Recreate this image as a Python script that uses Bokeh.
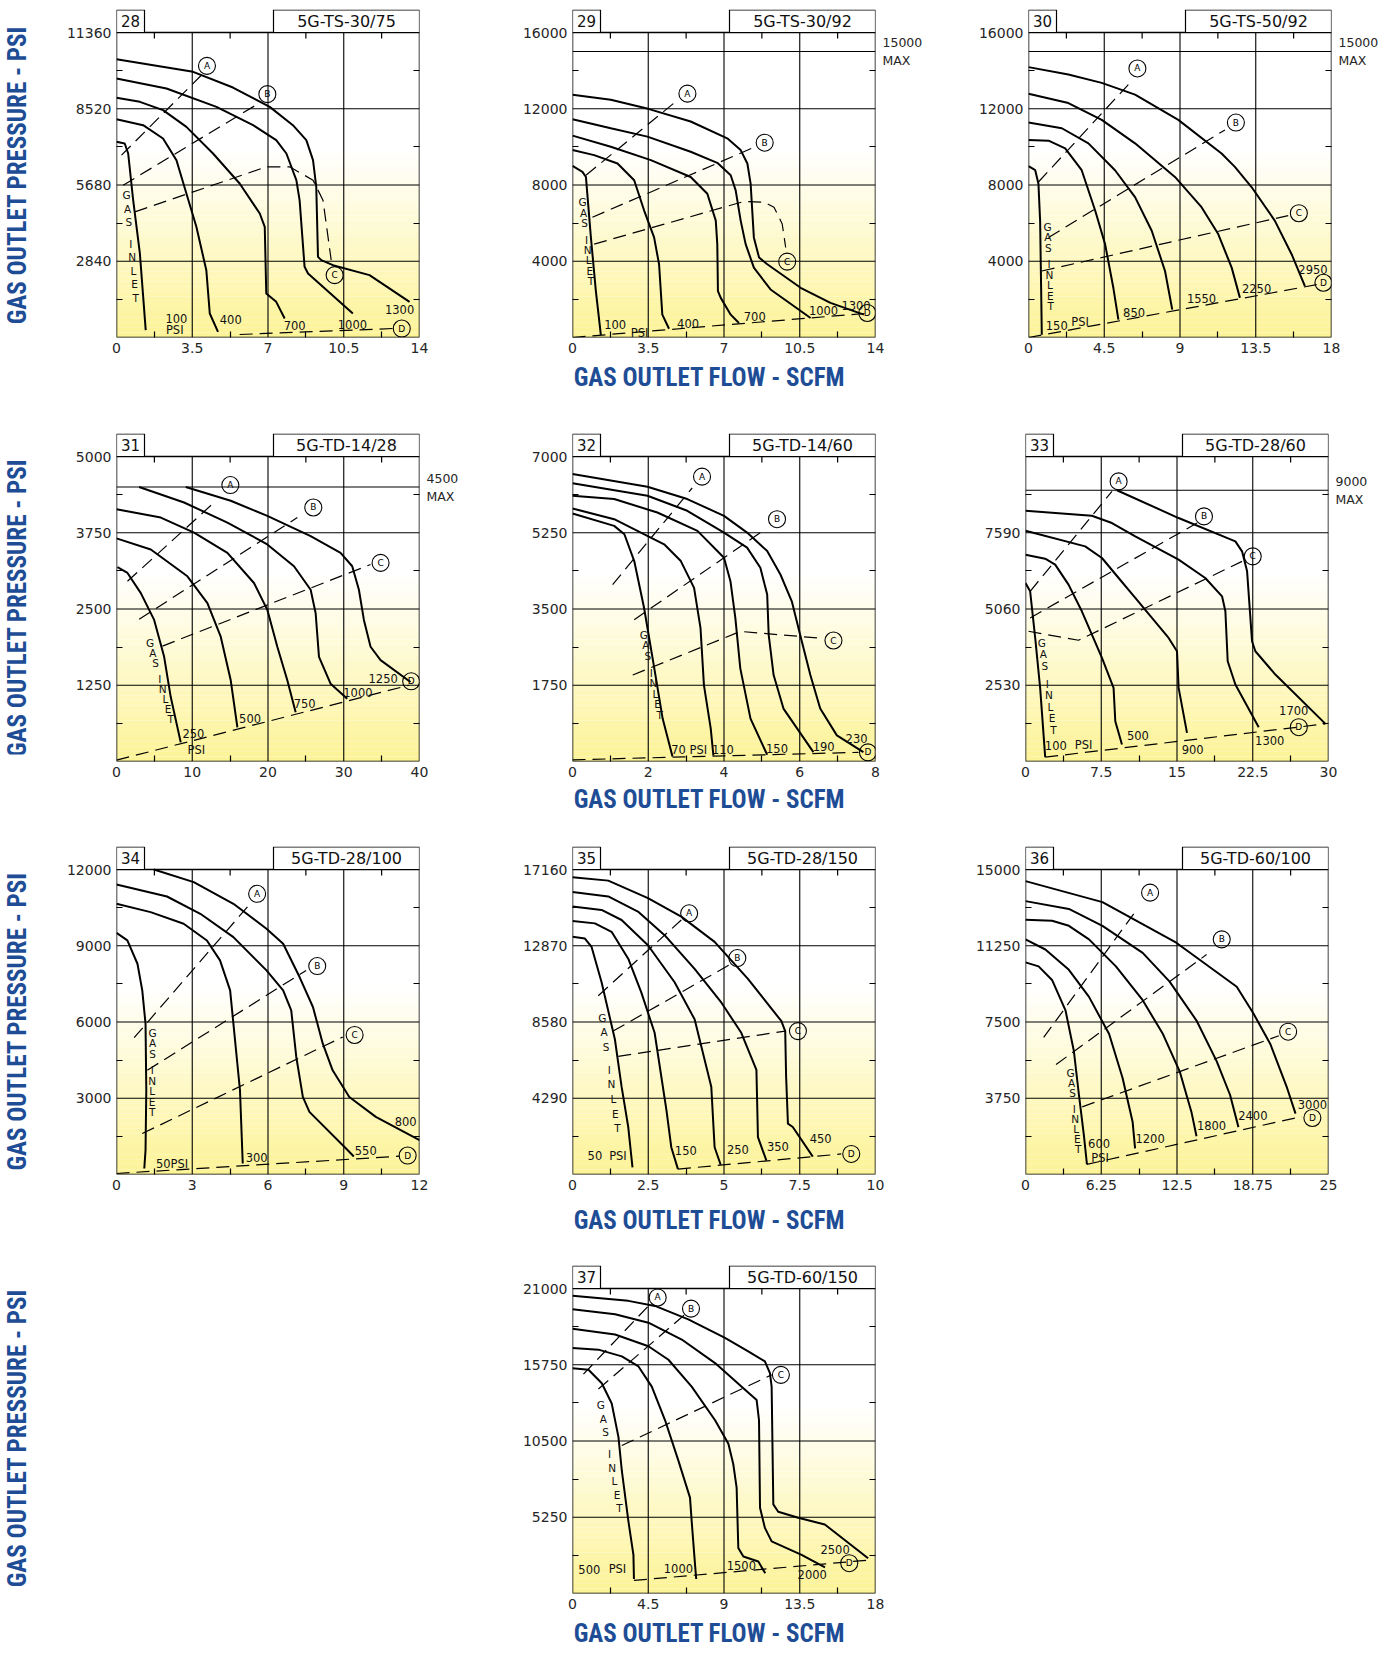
import math
from bokeh.plotting import figure
from bokeh.models import FixedTicker, LinearAxis, Range1d, CustomJSTickFormatter, Spacer
from bokeh.layouts import row, column
from bokeh.embed import file_html
from bokeh.resources import INLINE
from bokeh.core.properties import value

# ---------------------------------------------------------------- data
# Panel 28  5G-TS-30/75
p28_xmax, p28_ymax = 14, 11360
p28_xticks = [0, 3.5, 7, 10.5, 14]
p28_yticks = [2840, 5680, 8520, 11360]
p28_ygrid = [2840, 5680, 8520]
p28_psi = ["1300", "1000", "700", "400", "100"]
p28_cx = [[0, 3.54, 5.38, 7.08, 8.15, 8.77, 9.08, 9.23, 9.31, 9.46, 10.0, 11.69, 13.54],
          [0, 2.31, 4.62, 6.31, 7.38, 7.85, 8.31, 8.46, 8.69, 8.85, 10.92],
          [0, 1.08, 2.15, 3.23, 4.46, 5.69, 6.62, 6.85, 6.92, 7.38, 7.77],
          [0, 1.23, 2.15, 2.77, 3.23, 3.69, 4.15, 4.31, 4.69],
          [0, 0.38, 0.54, 0.77, 1.08, 1.35]]
p28_cy = [[10366, 9895, 9311, 8591, 7908, 7350, 6605, 5611, 3004, 2880, 2694, 2322, 1328],
          [9646, 9274, 8591, 7908, 7350, 6853, 5860, 5115, 2632, 2384, 894],
          [8926, 8777, 8467, 7846, 6853, 5736, 4618, 4122, 1639, 1328, 708],
          [8132, 7908, 7412, 6605, 5363, 4122, 2508, 894, 211],
          [7288, 7225, 6853, 5115, 3129, 273]]
p28_dx = [[0.23, 4.0], [0.31, 6.69], [0.85, 6.92, 8.0, 9.08, 9.54, 9.92], [5.69, 12.77]]
p28_dy = [[6791, 9833], [5674, 8777], [4680, 6356, 6356, 5860, 5115, 2880], [112, 335]]
p28_mx = [4.18, 6.97, 10.08, 13.18]
p28_my = [10118, 9063, 2322, 335]
p28_lt = ["1300", "1000", "700", "400", "100", "PSI"]
p28_lx = [13.08, 10.9, 8.23, 5.28, 2.77, 2.69]
p28_ly = [1043, 497, 459, 670, 708, 273]
p28_inlet = [0.46, 5301, 0.89, 1477]
p28_max = None

# Panel 29  5G-TS-30/92
p29_xmax, p29_ymax = 14, 16000
p29_xticks = [0, 3.5, 7, 10.5, 14]
p29_yticks = [4000, 8000, 12000, 16000]
p29_ygrid = [4000, 8000, 12000, 15000]
p29_psi = ["1300", "1000", "700", "400", "100"]
p29_cx = [[0, 1.77, 3.54, 5.46, 7.15, 7.77, 8.08, 8.23, 8.38, 8.62, 9.0, 10.54, 11.92, 13.46],
          [0, 1.77, 3.46, 5.46, 6.69, 7.31, 7.54, 7.77, 8.0, 8.38, 9.15, 11.0],
          [0, 1.77, 3.62, 5.46, 6.23, 6.62, 6.69, 6.72, 6.85, 7.31, 7.69],
          [0, 1.0, 2.08, 2.85, 3.31, 3.77, 4.0, 4.15, 4.46],
          [0, 0.46, 0.62, 0.85, 1.08, 1.31]]
p29_cy = [[12739, 12475, 11982, 11330, 10449, 9832, 9127, 8070, 5251, 4194, 3841, 2608, 1815, 1198],
          [11453, 10977, 10537, 9744, 9162, 8510, 7718, 6132, 4898, 3665, 2520, 1022],
          [10590, 10008, 9303, 8422, 7541, 6132, 4898, 2432, 2079, 1198, 758],
          [9832, 9568, 9127, 8246, 6660, 5251, 3841, 1198, 458],
          [9004, 8687, 8422, 5251, 2432, 141]]
p29_dx = [[0.62, 4.69], [0.92, 8.38], [1.0, 7.92, 8.85, 9.31, 9.69, 9.85], [0, 13.77]]
p29_dy = [[8510, 12299], [6308, 9973], [4898, 7136, 7101, 6836, 5956, 4722], [0, 1286]]
p29_mx = [5.31, 8.88, 9.92, 13.62]
p29_my = [12792, 10220, 3982, 1286]
p29_lt = ["1300", "1000", "700", "400", "100", "PSI"]
p29_lx = [13.1, 11.6, 8.42, 5.34, 1.97, 3.1]
p29_ly = [1680, 1410, 1110, 758, 670, 229]
p29_inlet = [0.46, 7101, 0.85, 2960]
p29_max = 15000

# Panel 30  5G-TS-50/92
p30_xmax, p30_ymax = 18, 16000
p30_xticks = [0, 4.5, 9, 13.5, 18]
p30_yticks = [4000, 8000, 12000, 16000]
p30_ygrid = [4000, 8000, 12000, 15000]
p30_psi = ["2950", "2250", "1550", "850", "150"]
p30_cx = [[0, 2.37, 4.35, 6.33, 8.9, 11.47, 12.26, 13.25, 14.63, 15.63, 16.42],
          [0, 2.37, 4.35, 6.33, 8.7, 10.28, 11.27, 12.07, 12.56],
          [0, 1.98, 3.56, 5.14, 6.33, 7.32, 8.11, 8.54],
          [0, 1.19, 2.18, 3.16, 3.96, 4.55, 5.04, 5.34],
          [0, 0.4, 0.59, 0.69, 0.75, 0.79]]
p30_cy = [[14184, 13796, 13356, 12739, 11418, 9656, 8951, 7894, 6132, 4370, 2696],
          [12792, 12299, 11418, 10185, 8422, 6836, 5427, 3665, 2079],
          [11277, 10977, 10185, 8775, 7365, 5603, 3489, 1462],
          [10361, 10326, 9920, 8775, 6660, 4898, 2608, 934],
          [8986, 8775, 8070, 6132, 2608, 141]]
p30_dx = [[0.59, 5.93], [1.19, 11.67], [0.79, 15.43], [0, 17.3]]
p30_dy = [[8158, 13268], [5251, 10889], [3489, 6396], [0, 2800]]
p30_mx = [6.47, 12.32, 16.06, 17.52]
p30_my = [14114, 11277, 6519, 2872]
p30_lt = ["2950", "2250", "1550", "850", "150", "PSI"]
p30_lx = [16.9, 13.55, 10.28, 6.27, 1.68, 3.07]
p30_ly = [3542, 2572, 2044, 1286, 634, 810]
p30_inlet = [1.13, 5815, 1.32, 1639]
p30_max = 15000

# Panel 31  5G-TD-14/28
p31_xmax, p31_ymax = 40, 5000
p31_xticks = [0, 10, 20, 30, 40]
p31_yticks = [1250, 2500, 3750, 5000]
p31_ygrid = [1250, 2500, 3750, 4500]
p31_psi = ["1250", "1000", "750", "500", "250"]
p31_cx = [[9.14, 15.08, 19.91, 25.63, 29.58, 31.12, 32.0, 32.66, 33.54, 34.86, 38.81],
          [2.99, 8.92, 14.64, 19.91, 23.43, 25.63, 26.29, 26.73, 28.26, 30.46],
          [0, 5.85, 10.24, 14.64, 18.15, 19.91, 21.23, 22.55, 23.65],
          [0, 4.53, 9.36, 12.0, 13.76, 15.08, 15.96],
          [0.13, 1.45, 3.21, 4.97, 6.29, 7.16, 8.48]]
p31_cy = [[4500, 4274, 4026, 3696, 3421, 3201, 2816, 2321, 1881, 1661, 1304],
          [4500, 4246, 3916, 3559, 3201, 2816, 2431, 1716, 1276, 1029],
          [4136, 3999, 3751, 3421, 2926, 2486, 1881, 1331, 809],
          [3658, 3476, 3036, 2596, 2046, 1331, 561],
          [3185, 3091, 2761, 2321, 1716, 1056, 314]]
p31_dx = [[1.45, 12.88], [2.99, 23.87], [6.07, 33.54], [0, 38.59]]
p31_dy = [[2954, 4246], [2332, 3999], [1892, 3229], [22, 1249]]
p31_mx = [15.03, 25.98, 34.86, 38.9]
p31_my = [4532, 4164, 3256, 1315]
p31_lt = ["1250", "1000", "750", "500", "250", "PSI"]
p31_lx = [35.2, 31.87, 24.84, 17.63, 10.15, 10.55]
p31_ly = [1360, 1128, 946, 699, 462, 187]
p31_inlet = [4.44, 1947, 7.16, 699]
p31_max = 4500

# Panel 32  5G-TD-14/60
p32_xmax, p32_ymax = 8, 7000
p32_xticks = [0, 2, 4, 6, 8]
p32_yticks = [1750, 3500, 5250, 7000]
p32_ygrid = [1750, 3500, 5250]
p32_psi = ["230", "190", "150", "110", "70"]
p32_cx = [[0, 1.98, 3.03, 4.0, 4.61, 5.14, 5.49, 5.79, 6.01, 6.28, 6.54, 6.98, 7.68],
          [0, 1.98, 3.03, 4.0, 4.61, 4.96, 5.14, 5.18, 5.31, 5.57, 6.36],
          [0, 1.1, 2.24, 3.3, 4.0, 4.17, 4.3, 4.43, 4.7, 5.14],
          [0, 1.1, 2.42, 2.86, 3.21, 3.38, 3.47, 3.65, 3.72],
          [0, 1.1, 1.37, 1.63, 1.89, 2.16, 2.38, 2.64]]
p32_cy = [[6600, 6307, 6023, 5638, 5254, 4831, 4292, 3677, 2908, 1985, 1215, 600, 215],
          [6384, 6100, 5754, 5254, 4908, 4446, 3831, 2908, 1985, 1215, 215],
          [6100, 6023, 5715, 5292, 4677, 4138, 3292, 2138, 985, 154],
          [5808, 5561, 4985, 4600, 3985, 3061, 1754, 754, 138],
          [5692, 5408, 5215, 4600, 3523, 2138, 985, 115]]
p32_dx = [[1.06, 3.16], [1.63, 5.0], [1.59, 4.43, 6.54], [0, 7.55]]
p32_dy = [[4061, 6277], [3254, 5277], [1985, 2985, 2831], [38, 210]]
p32_mx = [3.42, 5.4, 6.89, 7.8]
p32_my = [6538, 5561, 2777, 210]
p32_lt = ["230", "190", "150", "110", "70 PSI"]
p32_lx = [7.5, 6.63, 5.4, 3.97, 3.08]
p32_ly = [520, 346, 308, 269, 254]
p32_inlet = [1.88, 2908, 2.3, 1077]
p32_max = None

# Panel 33  5G-TD-28/60
p33_xmax, p33_ymax = 30, 10120
p33_xticks = [0, 7.5, 15, 22.5, 30]
p33_yticks = [2530, 5060, 7590]
p33_ygrid = [2530, 5060, 7590, 9000]
p33_psi = ["1700", "1300", "900", "500", "100"]
p33_cx = [[9.05, 15.16, 20.78, 21.44, 21.94, 22.43, 22.76, 24.74, 29.7],
          [0, 6.57, 8.56, 10.87, 15.16, 17.8, 19.46, 19.79, 20.02, 20.78, 23.09],
          [0, 5.91, 7.57, 9.22, 10.87, 12.52, 14.17, 15.0, 15.16, 15.99],
          [0, 1.95, 2.94, 4.26, 5.58, 7.57, 8.72, 8.89, 9.55],
          [0, 0.46, 0.96, 1.45, 1.95]]
p33_cy = [[9000, 8078, 7304, 6973, 6310, 3989, 3658, 2884, 1249],
          [8321, 8155, 7912, 7470, 6696, 6089, 5481, 4984, 3326, 2553, 1138],
          [7658, 7138, 6752, 6089, 5426, 4763, 4100, 3658, 2442, 950],
          [6862, 6730, 6531, 5868, 4984, 3437, 2442, 1337, 564],
          [5923, 5647, 4100, 2442, 144]]
p33_dx = [[0.46, 8.56], [0.46, 16.98], [0.3, 5.25, 21.44], [1.95, 29.7]]
p33_dy = [[5647, 8962], [4763, 7912], [4321, 4022, 6641], [144, 1249]]
p33_mx = [9.22, 17.67, 22.5, 27.06]
p33_my = [9293, 8133, 6807, 1138]
p33_lt = ["1700", "1300", "900", "500", "100", "PSI"]
p33_lx = [26.56, 24.18, 16.55, 11.13, 3.0, 5.75]
p33_ly = [1691, 696, 398, 862, 541, 541]
p33_inlet = [1.62, 3934, 2.78, 1061]
p33_max = 9000

# Panel 34  5G-TD-28/100
p34_xmax, p34_ymax = 12, 12000
p34_xticks = [0, 3, 6, 9, 12]
p34_yticks = [3000, 6000, 9000, 12000]
p34_ygrid = [3000, 6000, 9000]
p34_psi = ["800", "550", "300", "50"]
p34_cx = [[1.48, 3.06, 4.63, 5.94, 6.6, 7.25, 7.78, 8.17, 8.56, 9.22, 10.27, 12.0],
          [0, 2.0, 3.32, 4.63, 5.94, 6.6, 6.92, 7.12, 7.38, 7.64, 9.09, 9.4],
          [0, 1.35, 2.66, 3.58, 4.1, 4.5, 4.63, 4.76, 4.89, 5.0],
          [0, 0.43, 0.83, 1.02, 1.15, 1.18, 1.15, 1.1]]
p34_cy = [[12000, 11502, 10650, 9668, 9078, 7768, 6589, 5148, 4100, 3052, 2266, 1349],
          [11410, 10938, 10257, 9340, 8030, 7244, 6458, 4624, 3052, 2463, 1022, 707],
          [10650, 10323, 9864, 9209, 8423, 7244, 5934, 4624, 3314, 432],
          [9511, 9209, 8292, 7244, 5934, 3314, 956, 236]]
p34_dx = [[0.7, 5.29], [1.22, 7.51], [1.02, 8.96], [0, 11.2]]
p34_dy = [[5384, 10650], [4100, 8030], [1611, 5410], [40, 720]]
p34_mx = [5.57, 7.95, 9.43, 11.53]
p34_my = [11043, 8201, 5489, 747]
p34_lt = ["800", "550", "300", "50PSI"]
p34_lx = [11.45, 9.87, 5.55, 2.2]
p34_ly = [2083, 943, 668, 432]
p34_inlet = [1.43, 5568, 1.41, 2463]
p34_max = None

# Panel 35  5G-TD-28/150
p35_xmax, p35_ymax = 10, 17160
p35_xticks = [0, 2.5, 5, 7.5, 10]
p35_yticks = [4290, 8580, 12870, 17160]
p35_ygrid = [4290, 8580, 12870]
p35_psi = ["450", "350", "250", "150", "50"]
p35_cx = [[0, 1.18, 2.49, 3.59, 4.69, 5.79, 6.89, 7.02, 7.05, 7.11, 7.27, 7.93],
          [0, 1.18, 2.16, 3.04, 4.03, 4.91, 5.57, 6.07, 6.12, 6.4],
          [0, 0.96, 1.62, 2.49, 3.37, 4.03, 4.58, 4.69, 4.89],
          [0, 0.74, 1.29, 1.84, 2.27, 2.71, 3.1, 3.26, 3.48],
          [0, 0.41, 0.63, 0.96, 1.4, 1.62, 1.84, 1.98]]
p35_cy = [[16724, 16534, 15550, 14508, 13088, 11004, 8637, 8069, 5512, 2860, 2671, 1004],
          [15891, 15644, 14792, 13466, 11572, 9678, 7974, 5890, 2102, 777],
          [15076, 14887, 14319, 12898, 10815, 8731, 4943, 1534, 549],
          [14262, 14129, 13656, 12140, 10247, 7974, 3618, 1534, 303],
          [13371, 13277, 12803, 10815, 7595, 4943, 2671, 398]]
p35_dx = [[0.85, 3.59], [1.34, 5.24], [1.51, 7.02], [3.48, 8.87]]
p35_dy = [[10057, 14319], [8068, 11856], [6648, 8069], [303, 1155]]
p35_mx = [3.85, 5.44, 7.44, 9.2]
p35_my = [14697, 12178, 8069, 1155]
p35_lt = ["450", "350", "250", "150", "50", "PSI"]
p35_lx = [8.19, 6.78, 5.46, 3.74, 0.74, 1.5]
p35_ly = [2008, 1572, 1383, 1345, 1061, 1061]
p35_inlet = [0.98, 8826, 1.48, 2614]
p35_max = None

# Panel 36  5G-TD-60/100
p36_xmax, p36_ymax = 25, 15000
p36_xticks = [0, 6.25, 12.5, 18.75, 25]
p36_yticks = [3750, 7500, 11250, 15000]
p36_ygrid = [3750, 7500, 11250]
p36_psi = ["3000", "2400", "1800", "1200", "600"]
p36_cx = [[0, 6.35, 12.44, 17.43, 18.82, 20.21, 21.59, 22.28],
          [0, 3.58, 6.35, 9.67, 11.89, 14.11, 15.77, 16.88, 17.57],
          [0, 2.19, 3.58, 5.24, 7.46, 9.67, 11.34, 12.72, 13.69, 14.11],
          [0, 1.64, 3.58, 5.24, 6.9, 8.01, 8.84, 9.04],
          [0, 1.08, 2.19, 3.3, 3.99, 4.41, 4.82, 5.07]]
p36_cy = [[14427, 13395, 11398, 9235, 7904, 6406, 4243, 2995],
          [13445, 13062, 12230, 10899, 9485, 7571, 5574, 3910, 2330],
          [12530, 12480, 12230, 11565, 10234, 8570, 6906, 5075, 3078, 1880],
          [11565, 11066, 10067, 8736, 6906, 4742, 2579, 1281],
          [10433, 10234, 9568, 8070, 6074, 3910, 1914, 499]]
p36_dx = [[1.5, 9.12], [2.52, 14.94], [4.68, 20.9], [5.07, 22.8]]
p36_dy = [[6739, 12979], [5408, 10816], [3328, 6822], [499, 2850]]
p36_mx = [10.28, 16.19, 21.67, 23.67]
p36_my = [13861, 11565, 7022, 2779]
p36_lt = ["3000", "2400", "1800", "1200", "600", "PSI"]
p36_lx = [23.67, 18.76, 15.35, 10.28, 6.07, 6.15]
p36_ly = [3444, 2912, 2413, 1747, 1547, 798]
p36_inlet = [3.72, 4992, 4.35, 1248]
p36_max = None

# Panel 37  5G-TD-60/150
p37_xmax, p37_ymax = 18, 21000
p37_xticks = [0, 4.5, 9, 13.5, 18]
p37_yticks = [5250, 10500, 15750, 21000]
p37_ygrid = [5250, 10500, 15750]
p37_psi = ["2500", "2000", "1500", "1000", "500"]
p37_cx = [[0, 3.32, 4.9, 6.88, 9.06, 10.44, 11.43, 11.73, 11.83, 11.93, 12.22, 13.41, 14.99, 17.56],
          [0, 2.53, 4.51, 6.49, 8.47, 10.05, 10.94, 11.08, 11.14, 11.43, 11.83, 13.61, 15.0],
          [0, 2.53, 4.51, 5.7, 7.08, 8.47, 9.26, 9.55, 9.75, 9.85, 10.15, 11.04, 11.45],
          [0, 1.54, 2.93, 3.92, 4.71, 5.5, 6.29, 6.98, 7.08, 7.28, 7.35],
          [0, 0.95, 1.74, 2.33, 2.73, 2.93, 3.32, 3.62, 3.65]]
p37_cy = [[20497, 20149, 19802, 18875, 17602, 16675, 15980, 15170, 14243, 6137, 5628, 5211, 4748, 2432],
          [19570, 19223, 18644, 17486, 15865, 14243, 13317, 11927, 5906, 4516, 3590, 2663, 1800],
          [18227, 17833, 17023, 16096, 14243, 11927, 10306, 8917, 7295, 3127, 2548, 2200, 1390],
          [16907, 16791, 16328, 15633, 14243, 11927, 9148, 6601, 4979, 1969, 1000],
          [15517, 15401, 14475, 13085, 10769, 8453, 4979, 2663, 1000]]
p37_dx = [[0.65, 4.51], [1.54, 6.69], [2.93, 11.83], [3.65, 17.6]]
p37_dy = [[15100, 19802], [14081, 19223], [10190, 15054], [900, 2300]]
p37_mx = [5.06, 7.04, 12.38, 16.44]
p37_my = [20381, 19617, 15054, 2085]
p37_lt = ["2500", "2000", "1500", "1000", "500", "PSI"]
p37_lx = [15.6, 14.24, 10.03, 6.29, 1.0, 2.67]
p37_ly = [3000, 1320, 1946, 1737, 1668, 1668]
p37_inlet = [1.68, 12970, 2.79, 5859]
p37_max = None

p_models = {28: "5G-TS-30/75", 29: "5G-TS-30/92", 30: "5G-TS-50/92",
            31: "5G-TD-14/28", 32: "5G-TD-14/60", 33: "5G-TD-28/60",
            34: "5G-TD-28/100", 35: "5G-TD-28/150", 36: "5G-TD-60/100",
            37: "5G-TD-60/150"}
mark_letters = ["A", "B", "C", "D"]
inlet_letters = ["G", "A", "S", "I", "N", "L", "E", "T"]
y_title = "GAS OUTLET PRESSURE - PSI"
x_title = "GAS OUTLET FLOW - SCFM"

# ---------------------------------------------------------------- style
FW, FH, HDR = 303, 305, 23          # plot box width/height, header strip height
NUM_W, MOD_W = 28, 146              # header box widths in px
TICK_FONT = "DejaVu Sans"
TITLE_FONT = "Roboto Condensed, Roboto"
BLUE = "#1E4D96"
INK = "#262626"
INLET_SLOTS = [0, 1, 2, 3.6, 4.6, 5.6, 6.6, 7.6]


def grad_color(t):
    s = max(0.0, (0.62 - t) / 0.62)
    r = int(round(255 - 2 * s))
    g = int(round(255 - 12 * s))
    b = int(round(255 - 105 * s))
    return "#%02x%02x%02x" % (r, g, b)


def style_axis(ax):
    ax.axis_line_color = None
    ax.major_tick_in = 0
    ax.major_tick_out = 0
    ax.minor_tick_in = 6
    ax.minor_tick_out = 0
    ax.minor_tick_line_color = "black"
    ax.minor_tick_line_width = 1.2
    ax.major_label_text_font = TICK_FONT
    ax.major_label_text_color = INK
    ax.major_label_standoff = 5
    ax.major_label_text_font_size = "14px"


def panel(num, xmax, ymax, xticks, yticks, ygrid, psi, cx, cy, dx, dy, mx, my,
          lt, lx, ly, inlet, maxv, top_b, bot_b, left_b, right_b):
    ytop = ymax * (FH + HDR) / float(FH)
    p = figure(frame_width=FW, frame_height=FH + HDR,
               x_range=Range1d(0, xmax), y_range=Range1d(0, ytop),
               min_border_left=left_b, min_border_right=right_b,
               min_border_top=top_b, min_border_bottom=bot_b,
               output_backend="svg", toolbar_location=None)
    p.outline_line_color = None
    p.background_fill_color = "white"
    p.grid.visible = False

    # background gradient bands inside the plot box
    n = 60
    ys = [ymax * k / n for k in range(n + 1)]
    cols = [grad_color((k + 0.5) / n) for k in range(n)]
    p.quad(left=0, right=xmax, bottom=ys[:-1], top=ys[1:], fill_color=cols,
           line_color=None)

    xstep = xmax / 4.0
    ystep = ymax / 4.0
    xminor = [xstep * (k + 0.5) for k in range(4)]
    yminor = [ystep * (k + 0.5) for k in range(4)]

    # axes
    p.xaxis.ticker = FixedTicker(ticks=xticks, minor_ticks=xminor)
    p.yaxis.ticker = FixedTicker(ticks=yticks, minor_ticks=yminor)
    fmt = CustomJSTickFormatter(code="return String(tick);")
    p.xaxis.formatter = fmt
    p.yaxis.formatter = fmt
    for ax in p.xaxis + p.yaxis:
        style_axis(ax)
    right_ax = LinearAxis(ticker=FixedTicker(ticks=[maxv] if maxv else [], minor_ticks=yminor),
                          formatter=CustomJSTickFormatter(code="return String(tick) + '\\nMAX';"))
    style_axis(right_ax)
    right_ax.major_label_text_font_size = "12.5px"
    right_ax.major_label_standoff = 7
    p.add_layout(right_ax, "right")

    # grid lines (inside the plot box only)
    gx = [xstep, 2 * xstep, 3 * xstep]
    p.segment(x0=gx, y0=0, x1=gx, y1=ymax, line_color="black", line_width=1.1)
    p.segment(x0=0, y0=ygrid, x1=xmax, y1=ygrid, line_color="black", line_width=1.1)
    # top minor ticks hanging from the box top
    tick_len = 6 * ymax / float(FH)
    p.segment(x0=xminor, y0=ymax, x1=xminor, y1=ymax - tick_len,
              line_color="black", line_width=1.2)
    # plot box
    p.quad(left=0, right=xmax, bottom=0, top=ymax, fill_color=None,
           line_color="black", line_width=1.5)

    # header boxes
    nw = xmax * NUM_W / float(FW)
    mw = xmax * MOD_W / float(FW)
    p.quad(left=[0, xmax - mw], right=[nw, xmax], bottom=ymax, top=ytop - ymax * 0.5 / FH,
           fill_color="white", line_color="black", line_width=1.2)
    hy = (ymax + ytop) / 2.0
    p.text([nw / 2.0, xmax - mw / 2.0], [hy, hy], text=[str(num), p_models[num]],
           text_font=value(TICK_FONT), text_font_size=["15px", "16px"],
           text_align="center", text_baseline="middle", text_color="#111111")

    # operating curves
    for xs_, ys_ in zip(cx, cy):
        p.line(xs_, ys_, line_color="black", line_width=2.0)
    # dashed reference lines
    for xs_, ys_ in zip(dx, dy):
        p.line(xs_, ys_, line_color="black", line_width=1.2, line_dash="13 7")
    # curve labels
    p.text(lx, ly, text=lt, text_font=value(TICK_FONT), text_font_size="11.5px",
           text_align="center", text_baseline="middle", text_color="#111111")
    # GAS INLET letters
    x0, y0, x1, y1 = inlet
    last = INLET_SLOTS[-1]
    gxl = [x0 + (x1 - x0) * s / last for s in INLET_SLOTS]
    gyl = [y0 + (y1 - y0) * s / last for s in INLET_SLOTS]
    p.text(gxl, gyl, text=inlet_letters, text_font=value(TICK_FONT),
           text_font_size="10.5px", text_align="center", text_baseline="middle",
           text_color="#111111")
    # circled markers
    p.scatter(mx, my, marker="circle", size=17, fill_color=None,
              line_color="black", line_width=1.1)
    p.text(mx, my, text=mark_letters, text_font=value(TICK_FONT),
           text_font_size="9px", text_align="center", text_baseline="middle",
           text_color="black")
    return p


def P(n, top_b, bot_b, left_b, right_b):
    g = globals()
    k = "p%d_" % n
    return panel(n, g[k + "xmax"], g[k + "ymax"], g[k + "xticks"], g[k + "yticks"],
                 g[k + "ygrid"], g[k + "psi"], g[k + "cx"], g[k + "cy"],
                 g[k + "dx"], g[k + "dy"], g[k + "mx"], g[k + "my"],
                 g[k + "lt"], g[k + "lx"], g[k + "ly"], g[k + "inlet"],
                 g[k + "max"], top_b, bot_b, left_b, right_b)


def vtitle(h, center_from_top):
    f = figure(width=44, height=h, x_range=Range1d(0, 44), y_range=Range1d(0, h),
               min_border=0, x_axis_type=None, y_axis_type=None,
               output_backend="svg", toolbar_location=None)
    f.outline_line_color = None
    f.grid.visible = False
    f.text([17], [h - center_from_top], text=[y_title], angle=math.pi / 2,
           text_font=value(TITLE_FONT), text_font_style="bold",
           text_font_size="25px", text_color=BLUE, text_align="center",
           text_baseline="middle")
    return f


def htitle(h, center_from_top, width=1388, cx=709):
    f = figure(width=width, height=h, x_range=Range1d(0, width), y_range=Range1d(0, h),
               min_border=0, x_axis_type=None, y_axis_type=None,
               output_backend="svg", toolbar_location=None)
    f.outline_line_color = None
    f.grid.visible = False
    f.text([cx], [h - center_from_top], text=[x_title], text_font=value(TITLE_FONT),
           text_font_style="bold", text_font_size="25px", text_color=BLUE,
           text_align="center", text_baseline="middle")
    return f


L1, R1 = 72, 51
L2, R2 = 102, 47
L3, R3 = 103, 60
FT = FH + HDR

row1 = row(vtitle(362, 9 + HDR + 152), P(28, 9, 362 - 9 - FT, L1, R1),
           P(29, 7, 362 - 7 - FT, L2, R2), P(30, 7, 362 - 7 - FT, L3, R3), spacing=0)
row2 = row(vtitle(392, 38 + HDR + 152), P(31, 34, 392 - 34 - FT, L1, R1),
           P(32, 41, 392 - 41 - FT, L2, R2), P(33, 38, 392 - 38 - FT, L3, R3), spacing=0)
row3 = row(vtitle(385, 31 + HDR + 152), P(34, 32, 385 - 32 - FT, L1, R1),
           P(35, 31, 385 - 31 - FT, L2, R2), P(36, 31, 385 - 31 - FT, L3, R3), spacing=0)
row4 = row(vtitle(378, 24 + HDR + 152), Spacer(width=L1 + FW + R1, height=378),
           P(37, 24, 378 - 24 - FT, L2, R2), spacing=0)

page = column(row1, htitle(30, 15), row2, htitle(30, 15), row3, htitle(42, 21), row4,
              htitle(34, 14), spacing=0)

open("out.html", "w").write(file_html(page, INLINE))
